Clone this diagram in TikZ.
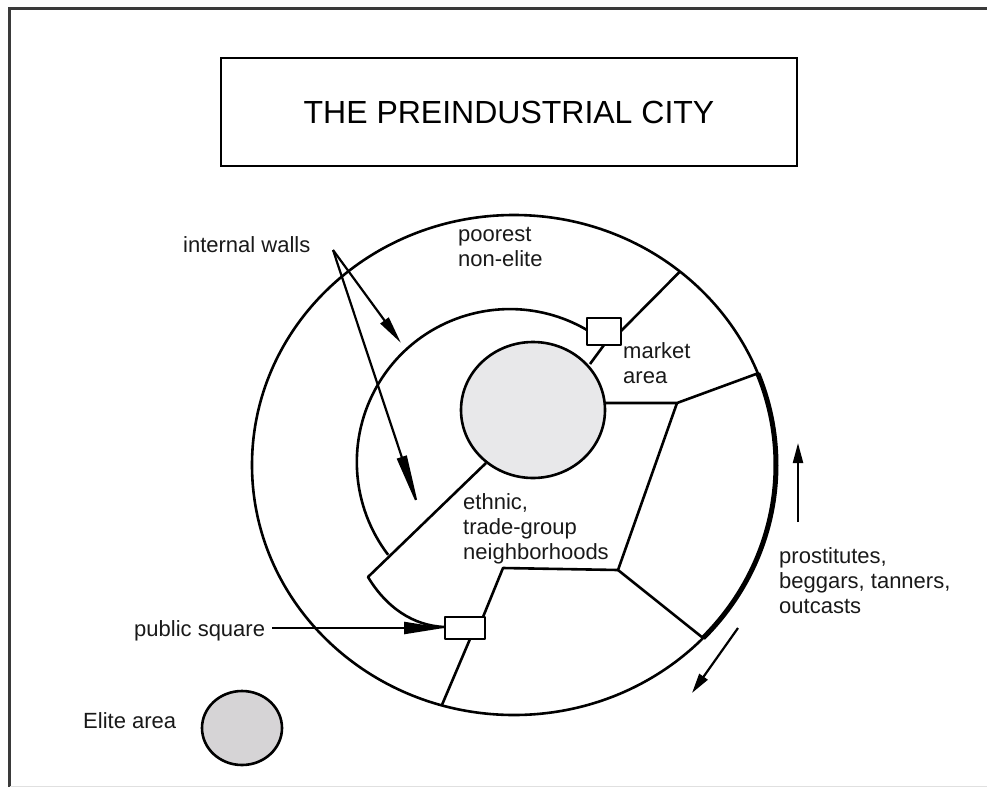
\documentclass[tikz,border=0pt]{standalone}
\usepackage{fontspec}
\setmainfont{Liberation Sans}
\usetikzlibrary{arrows.meta}
\definecolor{coreGray}{HTML}{E8E8EA}
\definecolor{eliteGray}{HTML}{D6D4D6}
\definecolor{frameGray}{HTML}{3A3A3A}
\begin{document}
\begin{tikzpicture}[x=1pt,y=-1pt,
  wall/.style={line width=2.6pt, line join=round},
  lbl/.style={anchor=base west, inner sep=0pt, align=left, font=\fontsize{22}{25}\selectfont, text=black!90},
  ptr/.style={line width=2.2pt, -{Triangle[length=#1, width=10pt]}},
]
\useasboundingbox (0,0) rectangle (987,787);

% page frame
\draw[line width=3.5pt, frameGray] (9.5,787) -- (9.5,8.5) -- (987,8.5);
\draw[line width=1pt, black!12] (9.5,786.5) -- (987,786.5);

% title
\node[draw, line width=2.8pt, minimum width=576pt, minimum height=108pt, inner sep=0pt,
      font=\fontsize{32}{38}\selectfont] (title) at (509,112) {THE PREINDUSTRIAL CITY};

% city wall
\coordinate (c) at (514,465);
\draw[wall] (c) ellipse [x radius=262, y radius=250];
\draw[line width=5pt] ([shift={(c)}]-21.5:262 and 250)
  arc[start angle=-21.5, end angle=43.8, x radius=262, y radius=250];

\coordinate (wA) at ([shift={(c)}]-50.7:262 and 250);
\coordinate (wB) at ([shift={(c)}]-21.5:262 and 250);
\coordinate (wC) at ([shift={(c)}]43.8:262 and 250);
\coordinate (wD) at ([shift={(c)}]106.0:262 and 250);
\coordinate (j1) at (677,403);
\coordinate (j2) at (618,570);
\coordinate (j3) at (503,568);
\coordinate (corner) at (368,577);

% inner wall
\draw[wall] (587,330) arc[start angle=-59.7, end angle=-217.3, radius=153];

% sector boundaries
\draw[wall] (621,331) -- (wA);
\draw[wall] (604,345) -- (590,364);
\draw[wall] (605,403) -- (j1) -- (wB);
\draw[wall] (j1) -- (j2) -- (wC);
\draw[wall] (j2) -- (j3) -- (483,617);
\draw[wall] (470,639) -- (wD);
\draw[wall] (486,463) -- (corner) .. controls (386,607) and (413,626) .. (445,627);

% centre
\draw[wall, fill=coreGray] (533,410) ellipse [x radius=72, y radius=68];

% market and public square
\draw[wall, fill=white] (587,318) rectangle (621,345);
\draw[wall, fill=white] (445,617) rectangle (485,639);

% elite area
\draw[wall, fill=eliteGray] (242,728) ellipse [x radius=40, y radius=37];

% pointers
\coordinate (iw) at (333,250);
\draw[ptr=28pt] (iw) -- (401,343);
\draw[ptr=58pt] (iw) -- (420,512);
\draw[ptr=40pt, -{Triangle[length=40pt, width=12pt]}] (272,628) -- (444,628);
\draw[ptr=20pt] (798,522) -- (798,443);
\draw[ptr=20pt] (738,628) -- (692,693);

% labels (anchored on the baseline of the last line)
\node[lbl] (l1) at (183,252) {internal walls};
\node[lbl] (l2) at (458,266) {poorest\\non-elite};
\node[lbl] (l3) at (623,383) {market\\area};
\node[lbl] (l4) at (463,559) {ethnic,\\trade-group\\neighborhoods};
\node[lbl] (l5) at (779,613) {prostitutes,\\beggars, tanners,\\outcasts};
\node[lbl] (l6) at (134,636) {public square};
\node[lbl] (l7) at (83,728) {Elite area};
\end{tikzpicture}
\end{document}
